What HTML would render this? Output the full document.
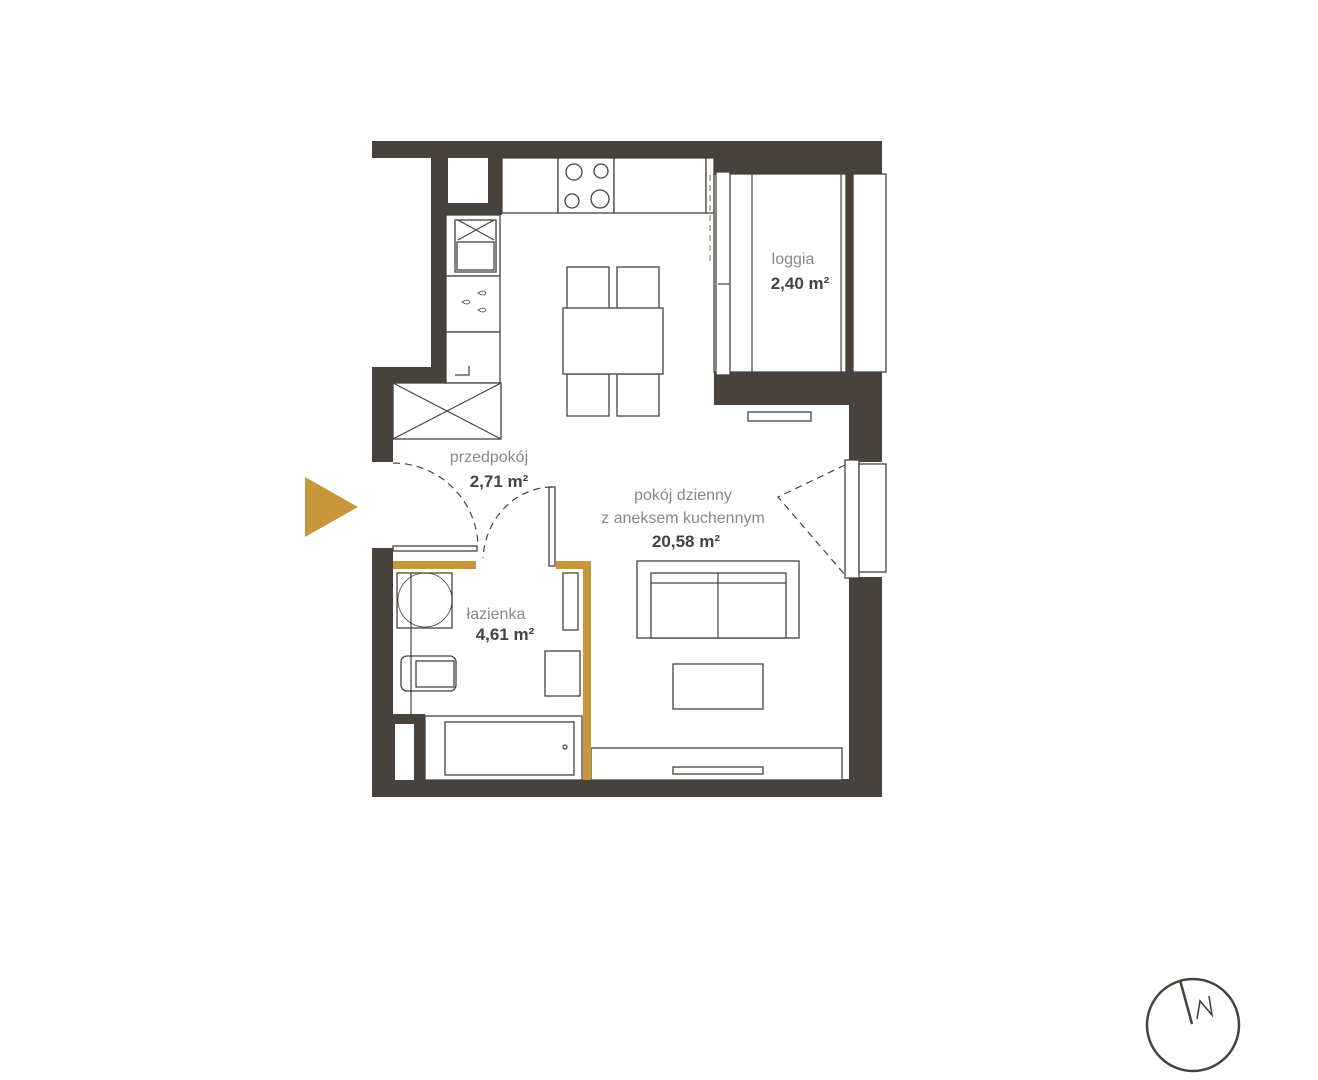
<!DOCTYPE html>
<html><head><meta charset="utf-8"><style>
html,body{margin:0;padding:0;background:#fff;}
svg{display:block}
text{font-family:"Liberation Sans",sans-serif;}
</style></head><body>
<svg width="1318" height="1080" viewBox="0 0 1318 1080" xmlns="http://www.w3.org/2000/svg">
<g fill="#47433c">
<rect x="372" y="141" width="510" height="17"/>
<rect x="706" y="141" width="176" height="33"/>
<rect x="431" y="141" width="16" height="242"/>
<rect x="372" y="367" width="75" height="16"/>
<rect x="447" y="158" width="55" height="57"/>
<rect x="372" y="367" width="21" height="95"/>
<rect x="372" y="548" width="21" height="249"/>
<rect x="393" y="714" width="32" height="66"/>
<rect x="372" y="779" width="510" height="18"/>
<rect x="714" y="372" width="168" height="33"/>
<rect x="849" y="372" width="33" height="90"/>
<rect x="849" y="577" width="33" height="220"/>
<rect x="846" y="174" width="7" height="198"/>
</g>
<g fill="#fff" stroke="#47433c" stroke-width="1.3">
<rect x="448" y="158" width="40" height="45" stroke="none"/>
<rect x="395" y="724" width="19" height="56" stroke="none"/>
<rect x="502" y="158" width="56" height="55"/>
<rect x="558" y="158" width="56" height="55"/>
<rect x="614" y="158" width="92" height="55"/>
<rect x="706" y="158" width="8" height="55"/>
<circle cx="574" cy="172" r="8"/><circle cx="601" cy="171" r="7"/>
<circle cx="572" cy="201" r="7"/><circle cx="600" cy="199" r="9"/>
<rect x="446" y="215" width="54" height="61"/>
<rect x="455" y="220" width="41" height="52"/>
<rect x="457" y="242" width="37" height="28"/>
<rect x="446" y="276" width="54" height="56"/>
<rect x="446" y="332" width="54" height="51"/>
<rect x="393" y="383" width="108" height="56"/>
<rect x="567" y="267" width="42" height="42"/>
<rect x="617" y="267" width="42" height="42"/>
<rect x="567" y="374" width="42" height="42"/>
<rect x="617" y="374" width="42" height="42"/>
<rect x="563" y="308" width="100" height="66"/>
<rect x="714" y="174" width="132" height="198"/>
<rect x="853" y="174" width="33" height="198"/>
<rect x="716" y="172" width="14" height="203"/>
<rect x="748" y="412" width="63" height="9"/>
<rect x="845" y="460" width="14" height="118"/>
<rect x="859" y="464" width="27" height="108"/>
<rect x="397" y="573" width="55" height="55"/>
<rect x="401" y="656" width="55" height="35" rx="6"/>
<rect x="416" y="661" width="38" height="26"/>
<rect x="545" y="651" width="35" height="45"/>
<rect x="563" y="573" width="15" height="57"/>
<rect x="425" y="716" width="157" height="64"/>
<rect x="445" y="722" width="129" height="53"/>
<rect x="637" y="561" width="162" height="77"/>
<rect x="651" y="573" width="135" height="65"/>
<rect x="673" y="664" width="90" height="45"/>
<rect x="591" y="748" width="251" height="32"/>
<rect x="673" y="767" width="90" height="7"/>
<rect x="393" y="546" width="84" height="5"/>
<rect x="549" y="487" width="6" height="79"/>
</g>
<g stroke="#47433c" stroke-width="1.2" fill="none">
<line x1="393" y1="383" x2="501" y2="439"/><line x1="501" y1="383" x2="393" y2="439"/>
<line x1="458" y1="220" x2="494" y2="240"/><line x1="494" y1="220" x2="458" y2="240"/>
<line x1="718" y1="284" x2="730" y2="284"/>
<line x1="752" y1="174" x2="752" y2="372"/>
<line x1="841" y1="174" x2="841" y2="372"/>
<line x1="718" y1="573" x2="718" y2="638"/>
<line x1="651" y1="583" x2="786" y2="583"/>
<line x1="411" y1="573" x2="411" y2="714"/>
<circle cx="425" cy="600" r="27" stroke-width="0.8"/>
<path d="M455 375 h14 v-9"/>
<circle cx="565" cy="747" r="2"/>
<path d="M393 463 A85 85 0 0 1 478 546" stroke-dasharray="7 5"/>
<path d="M552 487 A70 75 0 0 0 483 558" stroke-dasharray="7 5"/>
<path d="M845 465 L778 497 L845 575" stroke-dasharray="7 5"/>
<path d="M710 175 L710 265" stroke-dasharray="6 4" stroke-width="0.8"/>
<g stroke-width="0.8">
<path d="M478 293 q6 -4 8 0 q-2 4 -8 0z"/>
<path d="M462 302 q6 -4 8 0 q-2 4 -8 0z"/>
<path d="M478 310 q6 -4 8 0 q-2 4 -8 0z"/>
</g>
</g>
<g fill="#c8963b">
<rect x="393" y="561" width="83" height="8"/>
<rect x="556" y="561" width="35" height="8"/>
<rect x="583" y="561" width="8" height="219"/>
</g>
<polygon points="305,477 358,507 305,537" fill="#c8963b"/>
<g fill="#47433c" text-anchor="middle">
<text x="793" y="264" font-size="16" fill="#888">loggia</text>
<text x="800" y="289" font-size="17" font-weight="bold">2,40 m²</text>
<text x="489" y="462" font-size="16" fill="#888">przedpokój</text>
<text x="499" y="487" font-size="17" font-weight="bold">2,71 m²</text>
<text x="683" y="500" font-size="16" fill="#888">pokój dzienny</text>
<text x="683" y="523" font-size="16" fill="#888">z aneksem kuchennym</text>
<text x="686" y="547" font-size="17" font-weight="bold">20,58 m²</text>
<text x="496" y="619" font-size="16" fill="#888">łazienka</text>
<text x="505" y="640" font-size="17" font-weight="bold">4,61 m²</text>
</g>
<circle cx="1193" cy="1025" r="46" fill="none" stroke="#47433c" stroke-width="2.5"/>
<line x1="1180" y1="980" x2="1192" y2="1024" stroke="#47433c" stroke-width="2.5"/>
<path d="M1197 1019 L1200 1001 L1212 1015 L1209 996" fill="none" stroke="#47433c" stroke-width="1.6"/>
</svg>
</body></html>
